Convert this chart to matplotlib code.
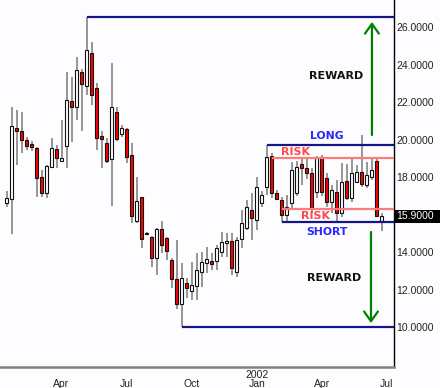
import matplotlib
matplotlib.use('Agg')
import matplotlib.pyplot as plt
import matplotlib.dates as mdates
import matplotlib.transforms as mtransforms
from matplotlib.patches import Rectangle
import pandas as pd

# ---- data (weekly OHLC) ----
opens = [16.6, 16.83, 20.6, 20.45, 19.97, 19.76, 19.55, 18.0, 17.15, 18.53,
         19.5, 18.85, 19.65, 22.05, 21.73, 23.6, 22.85, 24.6, 22.76, 20.19,
         19.81, 18.96, 21.47, 20.3, 20.56, 19.17, 15.65, 16.93, 15.0, 14.8,
         13.68, 15.23, 14.75, 13.57, 12.56, 11.25, 12.35, 11.92, 12.19, 12.93,
         13.41, 13.52, 13.52, 14.0, 14.48, 14.59, 12.93, 14.69, 15.28, 16.24,
         15.71, 16.61, 17.47, 19.12, 17.15, 16.77, 15.97, 16.61, 17.15, 18.69,
         18.48, 18.21, 17.2, 19.07, 17.95, 16.67, 17.2, 16.08, 17.79, 16.88,
         17.73, 18.27, 17.57, 18.0, 18.85, 15.65]
closes = [16.9, 20.72, 20.45, 19.97, 19.65, 19.6, 17.95, 17.15, 18.59, 19.55,
          19.0, 19.0, 22.1, 21.73, 23.7, 22.96, 24.77, 22.37, 20.1, 20.03,
          18.85, 21.73, 20.03, 20.6, 19.07, 15.92, 16.72, 14.69, 14.96, 13.68,
          15.23, 14.37, 14.05, 12.56, 11.23, 12.6, 12.08, 12.24, 13.04, 13.47,
          13.63, 13.36, 14.21, 14.53, 14.59, 13.15, 14.64, 15.55, 16.4, 15.81,
          17.47, 17.04, 19.07, 17.15, 16.83, 15.97, 16.4, 18.37, 18.53, 18.48,
          18.21, 16.35, 19.0, 17.2, 16.67, 17.3, 16.08, 17.73, 16.88, 18.21,
          18.27, 17.63, 18.1, 18.37, 15.92, 15.9]
highs = [17.25, 21.73, 21.6, 21.47, 20.13, 19.9, 19.6, 18.37, 18.64, 20.08,
         19.7, 21.04, 23.6, 23.33, 24.4, 23.76, 26.55, 25.2, 23.0, 20.45,
         20.08, 24.08, 21.73, 20.77, 20.6, 19.81, 18.0, 16.93, 15.05, 14.85,
         15.28, 15.65, 14.8, 13.68, 14.64, 13.4, 12.6, 13.47, 13.95, 14.0,
         14.27, 13.95, 14.37, 15.07, 15.0, 15.0, 14.8, 16.24, 16.77, 17.15,
         18.0, 17.25, 19.7, 19.28, 17.33, 16.93, 17.04, 18.8, 18.85, 19.0,
         18.96, 18.5, 19.12, 19.2, 18.2, 17.6, 17.84, 18.75, 18.69, 19.0,
         18.64, 20.24, 18.8, 19.07, 19.0, 16.08]
lows = [16.4, 14.96, 18.65, 19.3, 19.45, 19.4, 16.93, 16.93, 16.88, 18.48,
        18.5, 18.8, 18.5, 19.87, 21.04, 20.45, 22.37, 21.84, 19.44, 18.48,
        18.75, 16.45, 19.9, 20.13, 18.75, 15.55, 15.55, 14.21, 14.9, 13.2,
        12.77, 13.95, 13.57, 12.08, 10.96, 10.0, 11.55, 11.44, 11.44, 12.13,
        12.88, 13.04, 13.04, 13.73, 13.73, 12.77, 12.67, 14.21, 15.17, 14.64,
        15.17, 16.4, 17.04, 16.88, 16.77, 15.58, 15.6, 16.24, 17.0, 17.6,
        17.9, 16.1, 16.9, 17.0, 16.4, 16.1, 15.6, 15.87, 16.77, 16.67,
        17.68, 17.47, 17.41, 17.84, 15.85, 15.1]
dates = pd.date_range('2001-01-15', periods=len(opens), freq='7D')

month_tick_dates = ['2001-04-01', '2001-07-01', '2001-10-01', '2002-01-01', '2002-04-01', '2002-07-01']
month_names = ['Apr', 'Jul', 'Oct', 'Jan', 'Apr', 'Jul']
year_names = ['', '', '', '2002', '', '']
price_ticks = [10, 12, 14, 18, 20, 22, 24, 26]
last_price = 15.9

# horizontal levels: (price, index of candle where the line starts)
reward_top = (26.55, 16)
reward_bottom = (10.0, 35)
long_level = (19.7, 52)
short_level = (15.58, 55)
risk_upper = (19.03, 53)
risk_lower = (16.28, 55)

# ---- figure ----
bg = '#fdfdff'
fig = plt.figure(figsize=(4.4, 3.88), dpi=100, facecolor=bg)
ax = fig.add_axes([0, 21 / 388, 394 / 440, 367 / 388])
ax.set_facecolor(bg)

x = mdates.date2num(dates)
x0 = x[0]
ax.set_xlim(x0 - 9.4, x0 + 542.2)
ax.set_ylim(7.87, 27.44)

# wicks
ax.vlines(x, lows, highs, color='#7a7a7a', linewidth=1.1, zorder=2)
# bodies
for xi, o, c in zip(x, opens, closes):
    bottom = min(o, c)
    h = max(abs(c - o), 0.04)
    col = '#ff0000' if c < o else '#ffffff'
    ax.bar(xi, h, bottom=bottom, width=4.3, color=col, edgecolor='#111111',
           linewidth=0.8, zorder=3)

xmax = ax.get_xlim()[1]
navy = '#14148c'
for (p, i) in [reward_top, reward_bottom, long_level, short_level]:
    ax.hlines(p, x[i], xmax, color=navy, linewidth=1.6, zorder=4)
for (p, i) in [risk_upper, risk_lower]:
    ax.hlines(p, x[i], xmax, color='#ff7b7b', linewidth=1.6, zorder=4)

trans = mtransforms.blended_transform_factory(ax.transAxes, ax.transData)
bold = dict(fontweight='bold', family='DejaVu Sans', ha='center', va='center', transform=trans, zorder=6)
ax.text(0.853, 23.39, 'REWARD', color='#111111', fontsize=8, **bold)
ax.text(0.848, 12.61, 'REWARD', color='#111111', fontsize=8, **bold)
ax.text(0.830, 20.19, 'LONG', color='#2a2aff', fontsize=7.8, **bold)
ax.text(0.830, 15.07, 'SHORT', color='#2a2aff', fontsize=7.8, **bold)
ax.text(0.751, 19.33, 'RISK', color='#ff4a4a', fontsize=8, **bold)
ax.text(0.802, 15.92, 'RISK', color='#ff4a4a', fontsize=8, **bold)

arrow = dict(arrowstyle='->,head_length=0.7,head_width=0.5', color='#008000',
             lw=1.6, shrinkA=0, shrinkB=0)
ax.annotate('', xy=(0.944, 26.27), xytext=(0.944, 20.24), xycoords=trans,
            textcoords=trans, arrowprops=arrow, zorder=6)
ax.annotate('', xy=(0.9416, 10.21), xytext=(0.9416, 15.07), xycoords=trans,
            textcoords=trans, arrowprops=arrow, zorder=6)

# axes styling
for s in ['top', 'left']:
    ax.spines[s].set_visible(False)
ax.spines['right'].set_color('black')
ax.spines['right'].set_linewidth(1.0)
ax.spines['bottom'].set_color('#808080')
ax.spines['bottom'].set_linewidth(1.8)

label_font = ['Liberation Sans Narrow', 'Liberation Sans', 'DejaVu Sans']
ax.yaxis.tick_right()
ax.set_yticks(price_ticks)
ax.set_yticklabels([f'{v:.4f}' for v in price_ticks], family=label_font,
                   fontsize=7.5, color='#222222')
ax.tick_params(axis='y', length=0, pad=1.5)

ax.set_xticks(mdates.date2num(pd.to_datetime(month_tick_dates)))
ax.set_xticklabels([f'{y}\n{m}' for y, m in zip(year_names, month_names)],
                   family=label_font, fontsize=7.5, color='#222222', linespacing=0.95)
ax.tick_params(axis='x', length=0, pad=2)

# last price marker box
ax.add_patch(Rectangle((1.0, last_price - 0.36), 46 / 394, 0.72, transform=trans,
                       facecolor='black', edgecolor='none', clip_on=False, zorder=7))
ax.text(1.0 + 2 / 394, last_price, f'{last_price:.4f}', transform=trans,
        ha='left', va='center', color='white', family=label_font, fontsize=7.5,
        zorder=8, clip_on=False)

fig.savefig('out.png', dpi=100, facecolor=bg)
